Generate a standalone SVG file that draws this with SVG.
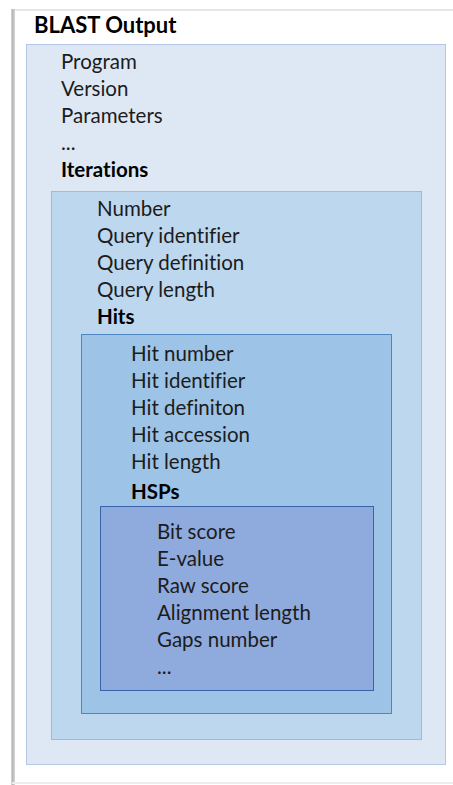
<svg xmlns="http://www.w3.org/2000/svg" width="453" height="785" viewBox="0 0 453 785">
  <style>
    text { font-variant-ligatures: none; }
    .t { font-family: Lato, "Liberation Sans", sans-serif; font-size: 20.5px; fill: #1c1c1c; }
    .b { font-weight: bold; fill: #000; }
    .h { font-family: Lato, "Liberation Sans", sans-serif; font-size: 22px; font-weight: bold; fill: #000; }
  </style>
  <rect x="0" y="0" width="453" height="785" fill="#ffffff"/>
  <!-- window frame -->
  <g id="frame">
    <rect x="12" y="9" width="441" height="2" fill="#e6e6e6"/>
    <rect x="11" y="9" width="4" height="776" fill="#d0d0d0"/>
    <rect x="12" y="9" width="1.5" height="776" fill="#b8b8b8"/>
    <rect x="12" y="782" width="441" height="2" fill="#ededed"/>
  </g>
  <g id="blast-output">
    <text class="h" x="34" y="33">BLAST Output</text>
    <rect x="26.5" y="44.5" width="419" height="720" fill="#dee8f4" stroke="#b4c7e7" stroke-width="1"/>
    <text class="t" x="61" y="69">Program</text>
    <text class="t" x="61" y="96">Version</text>
    <text class="t" x="61" y="123">Parameters</text>
    <text class="t" x="61" y="150">...</text>
    <text class="t b" x="61" y="177">Iterations</text>
  </g>
  <g id="iterations">
    <rect x="51.5" y="191.5" width="370" height="548" fill="#bdd7ee" stroke="#9fb9e6" stroke-width="1"/>
    <text class="t" x="97" y="216">Number</text>
    <text class="t" x="97" y="243">Query identifier</text>
    <text class="t" x="97" y="270">Query definition</text>
    <text class="t" x="97" y="297">Query length</text>
    <text class="t b" x="97" y="324">Hits</text>
  </g>
  <g id="hits">
    <rect x="81.5" y="334.5" width="310" height="379" fill="#9dc3e6" stroke="#4f87c4" stroke-width="1"/>
    <text class="t" x="131" y="361">Hit number</text>
    <text class="t" x="131" y="388">Hit identifier</text>
    <text class="t" x="131" y="415">Hit definiton</text>
    <text class="t" x="131" y="442">Hit accession</text>
    <text class="t" x="131" y="469">Hit length</text>
    <text class="t b" x="131" y="499">HSPs</text>
  </g>
  <g id="hsps">
    <rect x="100.5" y="506.5" width="273" height="184" fill="#8faadc" stroke="#3a62a8" stroke-width="1"/>
    <text class="t" x="157" y="539">Bit score</text>
    <text class="t" x="157" y="566">E-value</text>
    <text class="t" x="157" y="593">Raw score</text>
    <text class="t" x="157" y="620">Alignment length</text>
    <text class="t" x="157" y="647">Gaps number</text>
    <text class="t" x="157" y="674">...</text>
  </g>
</svg>
